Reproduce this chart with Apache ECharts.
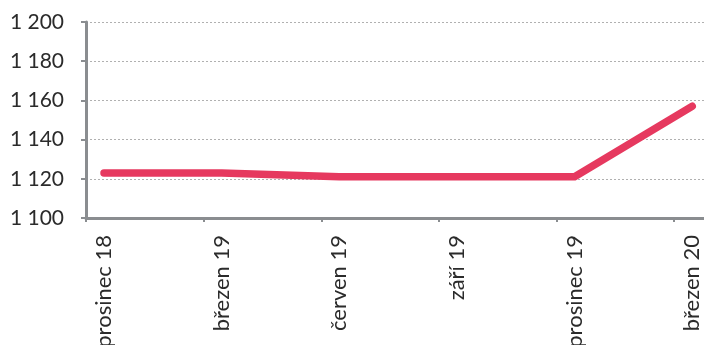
<!DOCTYPE html>
<html>
<head>
<meta charset="utf-8">
<script src="https://cdn.jsdelivr.net/npm/echarts@6/dist/echarts.min.js"></script>
<style>
  html, body { margin: 0; padding: 0; background: #fff; }
  #chart { width: 704px; height: 345px; }
</style>
</head>
<body>
<div id="chart"></div>
<script>
// data
let categories = ['prosinec 18', 'březen 19', 'červen 19', 'září 19', 'prosinec 19', 'březen 20'];
let values = [1123, 1123, 1121, 1121, 1121, 1157];
let yTicks = [1100, 1120, 1140, 1160, 1180, 1200];

// point i sits a bit to the right of its tick (date axis look)
let shift = 0.153;

let myChart = echarts.init(document.getElementById('chart'));

function fmt(v) {
    return String(v).replace(/\B(?=(\d{3})+(?!\d))/g, ' ');
}

let option = {
    animation: false,
    grid: {
        left: 86,
        right: 0,
        top: 22,
        bottom: 127,
        containLabel: false,
        outerBoundsMode: 'none'
    },
    xAxis: {
        type: 'value',
        min: -shift,
        max: categories.length - 1 + 0.1,
        axisLine: { onZero: false, lineStyle: { color: '#8a8d90', width: 3 } },
        axisTick: {
            show: true,
            length: 4,
            customValues: categories.map((c, i) => i - shift),
            lineStyle: { color: '#8a8d90', width: 2 }
        },
        axisLabel: {
            rotate: 90,
            margin: 17,
            fontSize: 22,
            fontFamily: 'Lato',
            color: '#2b2b2b',
            customValues: categories.map((c, i) => i),
            formatter: v => categories[Math.round(v)]
        },
        splitLine: { show: false }
    },
    yAxis: {
        type: 'value',
        min: yTicks[0],
        max: yTicks[yTicks.length - 1],
        interval: 20,
        axisLine: { show: true, onZero: false, lineStyle: { color: '#8a8d90', width: 3 } },
        axisTick: { show: true, length: 5, lineStyle: { color: '#8a8d90', width: 2 } },
        axisLabel: {
            fontSize: 21,
            fontFamily: 'Lato',
            color: '#2b2b2b',
            margin: 22,
            formatter: fmt
        },
        splitLine: {
            showMaxLine: true,
            lineStyle: { color: '#b0b0b0', type: [2, 2], width: 1 }
        }
    },
    series: [{
        type: 'line',
        data: values.map((v, i) => [i, v]),
        symbol: 'none',
        lineStyle: { color: '#e6395f', width: 7.5, cap: 'round', join: 'round' }
    }]
};

myChart.setOption(option);
</script>
</body>
</html>
